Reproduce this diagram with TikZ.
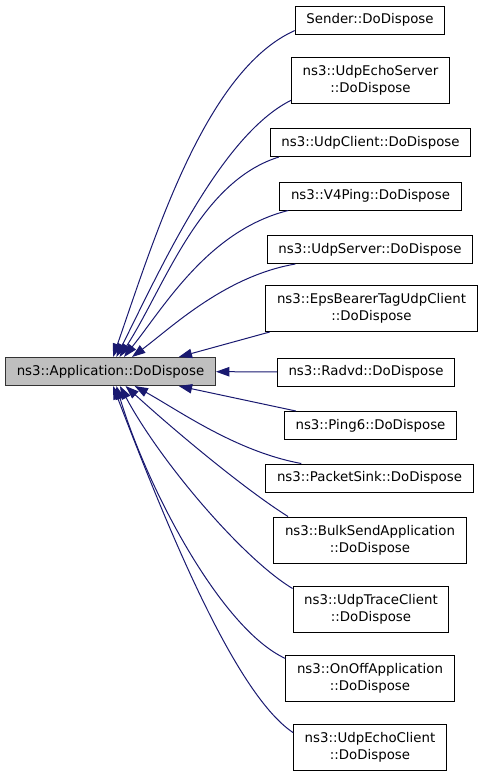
\documentclass[tikz,border=0pt]{standalone}
\usepackage{fontspec}
\setmainfont{DejaVu Sans}
\usepackage{xcolor}
\usetikzlibrary{arrows.meta,calc}
\definecolor{edgeblue}{HTML}{191970}
\definecolor{maingray}{HTML}{BFBFBF}

\begin{document}
\begin{tikzpicture}[x=0.75pt,y=-0.75pt,
  box/.style={draw=black,line width=0.75pt,fill=white,font=\fontsize{10}{12.75}\selectfont,
    inner xsep=8.4pt,inner ysep=0pt,minimum height=21pt,align=center},
  twobox/.style={box,minimum height=34.5pt},
  mainbox/.style={box,fill=maingray,draw=black!80},
  call/.style={draw=edgeblue,line width=0.75pt,-{Triangle[length=10pt,width=7pt]}}]
\useasboundingbox (0,0) rectangle (483,776);

\node[mainbox] (app) at (110.5,371.5) {ns3::Application::DoDispose};

\node[box] (sender) at (370,20) {Sender::DoDispose};
\node[twobox] (echoserver) at (370.5,80.5) {ns3::UdpEchoServer\\::DoDispose};
\node[box] (udpclient) at (370.5,142.5) {ns3::UdpClient::DoDispose};
\node[box] (v4ping) at (370.5,196) {ns3::V4Ping::DoDispose};
\node[box] (udpserver) at (370,249.5) {ns3::UdpServer::DoDispose};
\node[twobox] (epsbearer) at (371.5,308.5) {ns3::EpsBearerTagUdpClient\\::DoDispose};
\node[box] (radvd) at (366,372) {ns3::Radvd::DoDispose};
\node[box] (ping6) at (370.5,425.5) {ns3::Ping6::DoDispose};
\node[box] (packetsink) at (369.5,478) {ns3::PacketSink::DoDispose};
\node[twobox] (bulksend) at (370,540) {ns3::BulkSendApplication\\::DoDispose};
\node[twobox] (udptrace) at (371,609.5) {ns3::UdpTraceClient\\::DoDispose};
\node[twobox] (onoff) at (370,678) {ns3::OnOffApplication\\::DoDispose};
\node[twobox] (echoclient) at (370,747.5) {ns3::UdpEchoClient\\::DoDispose};

\draw[call] (sender.188) .. controls +(-90,40) and +(40,-115) .. (app.80);
\draw[call] (echoserver.194) .. controls +(-70,35) and +(45,-90) .. (app.68);
\draw[call] (udpclient.189) .. controls +(-80,25) and +(45,-70) .. (app.58);
\draw[call] (v4ping.190) .. controls +(-80,20) and +(40,-50) .. (app.47);
\draw[call] (udpserver.191) .. controls +(-70,12) and +(40,-30) .. (app.34);
\draw[call] (epsbearer.193) -- (app.12);
\draw[call] (radvd) -- (app);
\draw[call] (ping6.169) -- (app.-12);
\draw[call] (packetsink.168) .. controls +(-65,-12) and +(45,25) .. (app.-31);
\draw[call] (bulksend.164) .. controls +(-40,-25) and +(55,50) .. (app.-44);
\draw[call] (udptrace.165) .. controls +(-50,-30) and +(40,75) .. (app.-57);
\draw[call] (onoff.167) .. controls +(-65,-30) and +(30,100) .. (app.-68);
\draw[call] (echoclient.169) .. controls +(-60,-40) and +(50,130) .. (app.-80);
\end{tikzpicture}
\end{document}
